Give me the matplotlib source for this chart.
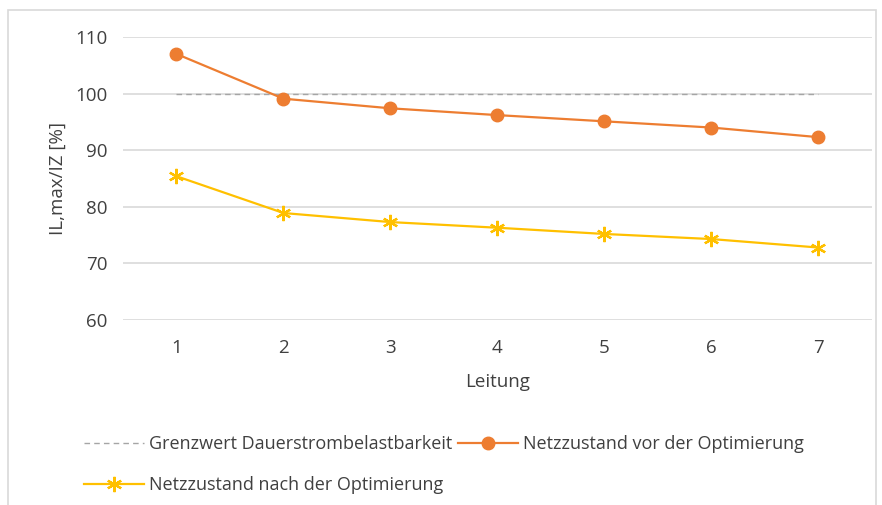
import matplotlib.pyplot as plt
from matplotlib.patches import Rectangle

plt.rcParams['font.family'] = ['Open Sans', 'DejaVu Sans']

leitung = [1, 2, 3, 4, 5, 6, 7]
grenzwert = [100, 100, 100, 100, 100, 100, 100]
vor_opt = [107.0, 99.1, 97.4, 96.2, 95.1, 94.0, 92.3]
nach_opt = [85.4, 78.9, 77.3, 76.3, 75.2, 74.3, 72.8]

txt = '#404040'

fig = plt.figure(figsize=(8.82, 5.05), dpi=100)
fig.patches.append(Rectangle((8 / 882, -0.01), 868 / 882, 1 - 10 / 505 + 0.01,
                             transform=fig.transFigure, fill=False,
                             edgecolor='#D9D9D9', linewidth=1.2))

ax = fig.add_axes([123 / 882, 1 - 320 / 505, 749 / 882, 283 / 505])

l1, = ax.plot(leitung, grenzwert, color='#A5A5A5', linestyle=(0, (4, 3)),
              linewidth=1.0, label='Grenzwert Dauerstrombelastbarkeit')
l2, = ax.plot(leitung, vor_opt, color='#ED7D31', linewidth=1.6, marker='o',
              markersize=9, label='Netzzustand vor der Optimierung')
l3, = ax.plot(leitung, nach_opt, color='#FFC000', linewidth=1.6,
              marker=(6, 2, 0), markersize=11, markeredgewidth=1.6,
              label='Netzzustand nach der Optimierung')

ax.set_xlim(0.5, 7.5)
ax.set_ylim(60, 110)
ax.set_yticks([60, 70, 80, 90, 100, 110])
ax.set_xticks(leitung)
ax.grid(axis='y', color='#D9D9D9', linewidth=1.2)
ax.set_axisbelow(True)
for s in ax.spines.values():
    s.set_visible(False)
ax.tick_params(length=0, labelsize=13.5, colors=txt, pad=11)
ax.tick_params(axis='x', pad=14)
ax.set_ylabel('IL,max/IZ [%]', fontsize=13.5, color=txt, labelpad=6)
ax.set_xlabel('Leitung', fontsize=13.5, color=txt, labelpad=11)

fig.legend([l1, l3, l2], [l1.get_label(), l3.get_label(), l2.get_label()],
           ncol=2, loc='upper left', bbox_to_anchor=(68 / 882, 1 - 419 / 505),
           frameon=False, fontsize=13, labelcolor=txt, handlelength=3.3,
           labelspacing=1.25, columnspacing=0.3, handletextpad=0.3)

fig.savefig('out.png', dpi=100)
